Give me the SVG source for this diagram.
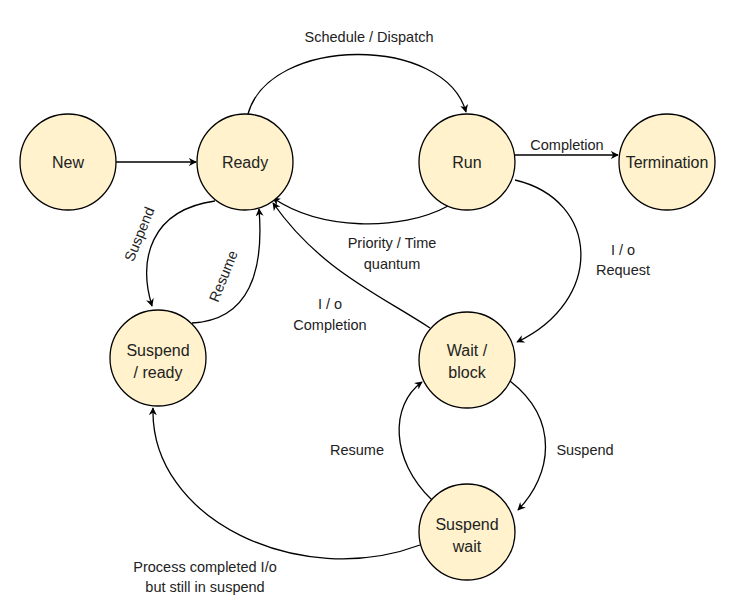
<svg xmlns="http://www.w3.org/2000/svg" width="747" height="609" viewBox="0 0 747 609">
<style>
.n{fill:#fff2cc;stroke:#000;stroke-width:1.3}
.t{font-family:"Liberation Sans",Arial,sans-serif;font-size:16px;fill:#222;text-anchor:middle}
.l{font-family:"Liberation Sans",Arial,sans-serif;font-size:14.5px;fill:#222;text-anchor:middle}
.c{fill:none;stroke:#000;stroke-width:1.3;marker-end:url(#a)}
</style>
<defs><marker id="a" viewBox="0 0 10 10" refX="9" refY="5" markerWidth="8" markerHeight="8" orient="auto" markerUnits="userSpaceOnUse"><path d="M0,0 L10,5 L0,10 L3,5 z" fill="#000"/></marker></defs>
<rect width="747" height="609" fill="#fff"/>
<g id="connectors">
<path class="c" d="M116,162 L196,162"/>
<path class="c" d="M248,114 C270,35 445,35 466,112"/>
<text class="l" x="369" y="42">Schedule / Dispatch</text>
<path class="c" d="M515,155 L618,155"/>
<text class="l" x="567" y="150">Completion</text>
<path class="c" d="M448,206 C400,232 320,230 273,198"/>
<text class="l" x="392" y="248">Priority / Time</text>
<text class="l" x="392" y="269">quantum</text>
<path class="c" d="M515,180 C600,200 605,300 517,342"/>
<text class="l" x="623" y="255">I / o</text>
<text class="l" x="623" y="275">Request</text>
<path class="c" d="M430,328 C380,295 320,270 273,203"/>
<text class="l" x="330" y="309">I / o</text>
<text class="l" x="330" y="330">Completion</text>
<path class="c" d="M215,201 C150,210 138,260 152,306"/>
<text class="l" transform="translate(144,236) rotate(-68)">Suspend</text>
<path class="c" d="M192,323 C250,320 264,270 259,209"/>
<text class="l" transform="translate(228,278) rotate(-68)">Resume</text>
<path class="c" d="M510,381 C560,420 552,475 518,510"/>
<text class="l" x="585" y="455">Suspend</text>
<path class="c" d="M432,500 C390,460 390,405 422,382"/>
<text class="l" x="357" y="455">Resume</text>
<path class="c" d="M420,545 C300,590 150,520 153,408"/>
<text class="l" x="205" y="572">Process completed I/o</text>
<text class="l" x="205" y="592">but still in suspend</text>
</g>
<g id="new"><circle class="n" cx="68" cy="162" r="48"/><text class="t" x="68" y="168">New</text></g>
<g id="ready"><circle class="n" cx="245" cy="162" r="48"/><text class="t" x="245" y="168">Ready</text></g>
<g id="run"><circle class="n" cx="467" cy="162" r="48"/><text class="t" x="467" y="168">Run</text></g>
<g id="termination"><circle class="n" cx="667" cy="162" r="48"/><text class="t" x="667" y="168">Termination</text></g>
<g id="suspend-ready"><circle class="n" cx="158" cy="358" r="48"/><text class="t" x="158" y="356">Suspend</text><text class="t" x="158" y="378">/ ready</text></g>
<g id="wait-block"><circle class="n" cx="467" cy="360" r="48"/><text class="t" x="467" y="356">Wait /</text><text class="t" x="467" y="378">block</text></g>
<g id="suspend-wait"><circle class="n" cx="467" cy="532" r="48"/><text class="t" x="467" y="530">Suspend</text><text class="t" x="467" y="552">wait</text></g>
</svg>
